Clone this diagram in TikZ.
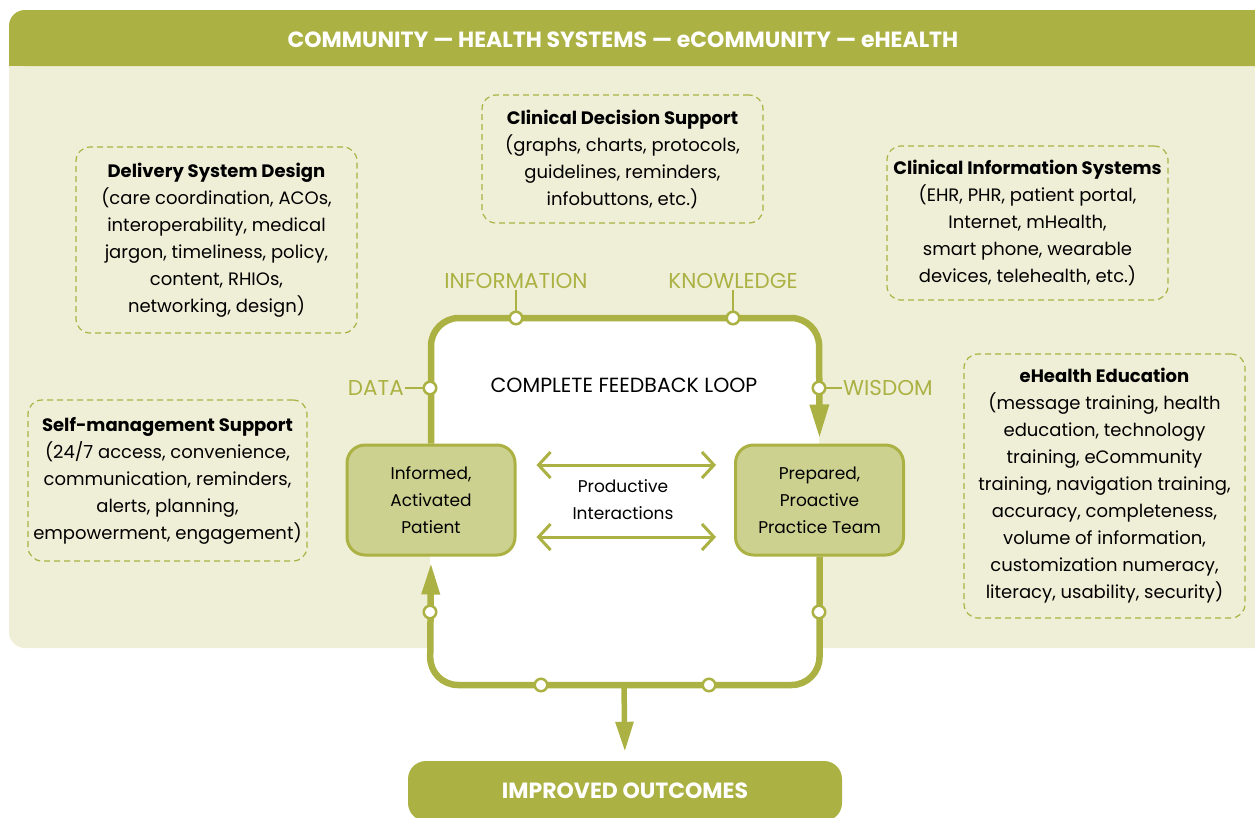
\documentclass[tikz,border=0pt]{standalone}
\usepackage{fontspec}
\setmainfont{Poppins}
\usetikzlibrary{arrows.meta,positioning}
\definecolor{leaf}{RGB}{171,178,67}
\definecolor{panel}{RGB}{239,239,216}
\definecolor{boxfill}{RGB}{205,209,143}
\tikzset{
  dashbox/.style={draw=leaf,dash pattern=on 6pt off 4pt,line width=1.2pt,rounded corners=14pt,
    align=center,inner sep=0pt,minimum width=281pt,font=\fontsize{18}{27}\selectfont},
  rolebox/.style={draw=leaf,fill=boxfill,line width=3pt,rounded corners=18pt,align=center,
    minimum width=168pt,minimum height=110pt,font=\fontsize{17}{27}\selectfont},
  dot/.style={circle,draw=leaf,fill=white,line width=2.5pt,minimum size=12.5pt,inner sep=0pt},
  steplabel/.style={text=leaf,font=\fontsize{21.5}{24}\selectfont,inner sep=1pt},
  loopline/.style={draw=leaf,line width=6.5pt,rounded corners=28pt},
  tick/.style={draw=leaf,line width=1.5pt},
  interact/.style={draw=leaf,line width=3pt,{Straight Barb[length=12pt,width=26pt]}-{Straight Barb[length=12pt,width=26pt]}}
}
\begin{document}
\begin{tikzpicture}[x=1pt,y=-1pt]
\clip (0,0) rectangle (1255,817);
% background panel and header
\fill[panel,rounded corners=16pt] (9,10) rectangle (1290,648);
\fill[leaf,rounded corners=16pt] (9,10) -- (1290,10) -- (1290,66) -- (9,66) -- cycle;
\fill[leaf] (9,40) rectangle (1290,66);
\node[text=white,font=\bfseries\fontsize{22}{24}\selectfont] (header) at (623,40)
  {COMMUNITY — HEALTH SYSTEMS — eCOMMUNITY — eHEALTH};
% loop interior
\fill[white,rounded corners=28pt] (430,318) rectangle (819,685);
\coordinate (tr) at (819,318);
\coordinate (bl) at (430,685);
\coordinate (loopbot) at (624,685);
% the two parties
\node[rolebox] (patient) at (431,500) {Informed,\\Activated\\Patient};
\node[rolebox] (team) at (819.5,500) {Prepared,\\Proactive\\Practice Team};
% feedback loop
\draw[loopline,-{Triangle[length=34pt,width=18pt]},shorten >=5pt] (patient.north) |- (tr) -- (team.north);
\draw[loopline,-{Triangle[length=32pt,width=17pt]},shorten >=6pt] (team.south) |- (bl) -- (patient.south);
\node[font=\fontsize{20.5}{22}\selectfont] (loop) at (624,385) {COMPLETE FEEDBACK LOOP};
% labels with ticks
\node[steplabel] (information) at (516,281) {INFORMATION};
\node[steplabel] (knowledge) at (733,281) {KNOWLEDGE};
\node[steplabel,anchor=east] (data) at (405,388) {DATA};
\node[steplabel,anchor=west] (wisdom) at (842,388) {WISDOM};
\foreach \n/\x/\y in {cinfo/516/318,cknow/733/318,cdata/430/388,cwisdom/819/388,
  cleft/430/612,cright/819/612,cbotl/541/685,cbotr/709/685}
  \coordinate (\n) at (\x,\y);
\draw[tick] (information.south) -- (cinfo);
\draw[tick] (knowledge.south) -- (cknow);
\draw[tick] (data.east) -- (cdata);
\draw[tick] (wisdom.west) -- (cwisdom);
\foreach \n in {cinfo,cknow,cdata,cwisdom,cleft,cright,cbotl,cbotr}
  \node[dot] at (\n) {};
% interactions
\draw[interact,shorten <=20pt,shorten >=18pt] ([yshift=35pt]patient.east) -- ([yshift=35pt]team.west);
\draw[interact,shorten <=20pt,shorten >=18pt] ([yshift=-37pt]patient.east) -- ([yshift=-37pt]team.west);
\node[align=center,font=\fontsize{17}{27}\selectfont] (productive) at (623,500) {Productive\\Interactions};
% outcome
\node[fill=leaf,rounded corners=18pt,minimum width=434pt,minimum height=60pt,text=white,
  font=\bfseries\fontsize{22}{24}\selectfont] (outcomes) at (625,791) {IMPROVED OUTCOMES};
\draw[draw=leaf,line width=5.5pt,-{Triangle[length=30pt,width=17pt]},shorten >=9pt] (loopbot) -- (outcomes.north);
% change concepts
\node[dashbox,minimum height=186pt] (delivery) at (216.5,240)
  {\textbf{Delivery System Design}\\(care coordination, ACOs,\\interoperability, medical\\jargon, timeliness, policy,\\content, RHIOs,\\networking, design)};
\node[dashbox,minimum height=128pt] (decision) at (622.5,159)
  {\textbf{Clinical Decision Support}\\(graphs, charts, protocols,\\guidelines, reminders,\\infobuttons, etc.)};
\node[dashbox,minimum height=154pt] (infosys) at (1027.5,223)
  {\textbf{Clinical Information Systems}\\(EHR, PHR, patient portal,\\Internet, mHealth,\\smart phone, wearable\\devices, telehealth, etc.)};
\node[dashbox,minimum width=279pt,minimum height=161pt] (selfmgmt) at (167.5,480.5)
  {\textbf{Self-management Support}\\(24/7 access, convenience,\\communication, reminders,\\alerts, planning,\\empowerment, engagement)};
\node[dashbox,minimum height=264pt] (education) at (1104.5,486)
  {\textbf{eHealth Education}\\(message training, health\\education, technology\\training, eCommunity\\training, navigation training,\\accuracy, completeness,\\volume of information,\\customization numeracy,\\literacy, usability, security)};
\end{tikzpicture}
\end{document}
